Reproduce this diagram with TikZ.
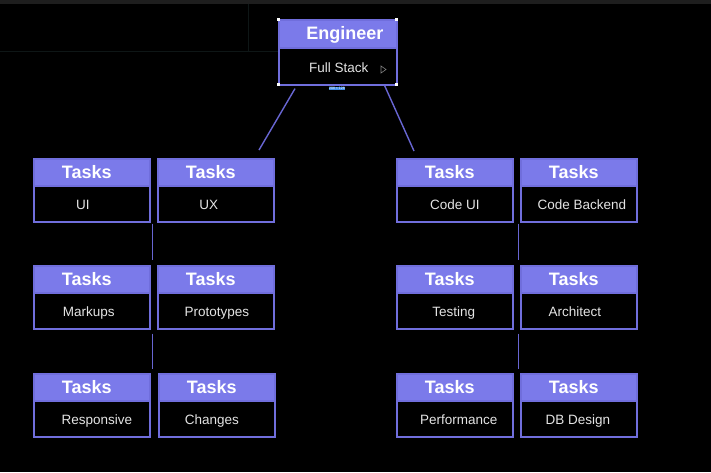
\documentclass[tikz,border=0pt]{standalone}
\usepackage{fontspec}
\setmainfont{Liberation Sans}
\definecolor{hdr}{RGB}{123,122,234}
\definecolor{edge}{RGB}{112,110,220}
\definecolor{wire}{RGB}{104,102,210}
\definecolor{txt}{RGB}{228,228,228}
\definecolor{strip}{RGB}{30,30,30}
\definecolor{faint}{RGB}{14,22,22}
\definecolor{tagblue}{RGB}{66,140,228}
\tikzset{
  bar/.style={fill=hdr, draw=edge, line width=1.6pt, minimum width=116pt,
    minimum height=27pt, inner sep=0pt, anchor=north west},
  head/.style={bar, label={[title,xshift=-5pt]center:Tasks}},
  body/.style={draw=edge, line width=1.6pt, minimum width=116pt,
    minimum height=36pt, inner sep=0pt, anchor=north west},
  title/.style={text=white, font=\bfseries\fontsize{18}{20}\selectfont,
    text height=13pt, text depth=1pt},
  item/.style={text=txt, font=\fontsize{13.5}{16}\selectfont,
    text height=10pt, text depth=3pt, yshift=-2.5pt},
  link/.style={draw=wire, line width=1.4pt},
  grip/.style={fill=white, minimum size=3pt, inner sep=0pt}
}
\begin{document}
\begin{tikzpicture}[x=1pt,y=-1pt]
  \useasboundingbox (0,0) rectangle (711,472);
  \fill[black] (0,0) rectangle (711,472);
  \fill[strip] (0,0) rectangle (711,4);
  \draw[faint, line width=0.6pt] (0,51) -- (278,51);
  \draw[faint, line width=0.6pt] (248,4) -- (248,51);

  % top box
  \node[bar, minimum width=118pt, minimum height=28pt,
    label={[title,xshift=7pt]center:Engineer}] (eng-head) at (278,19) {};
  \node[body, minimum width=118pt, minimum height=37pt,
    label={[item,xshift=1pt]center:Full Stack}] (eng) at (278,47) {};
  \node[grip] (grip-nw) at (278,19) {};
  \node[grip] (grip-ne) at (396,19) {};
  \node[grip] (grip-sw) at (278,84) {};
  \node[grip] (grip-se) at (396,84) {};
  \node[fill=tagblue, inner sep=0.6pt, text=white,
    font=\fontsize{3.5}{4}\selectfont] (size-tag) at (337,88.5) {208 × 128};
  \draw[gray, line width=0.6pt] (381,66) -- (386,69.5) -- (381,73) -- cycle;

  % left group
  \node[head] (ui-head) at (33,158) {};
  \node[body, label={[item,xshift=-9pt]center:UI}] (ui) at (33,185) {};
  \node[head] (ux-head) at (157,158) {};
  \node[body, label={[item,xshift=-7pt]center:UX}] (ux) at (157,185) {};
  \node[head] (markups-head) at (33,265) {};
  \node[body, label={[item,xshift=-3pt]center:Markups}] (markups) at (33,292) {};
  \node[head] (proto-head) at (157,265) {};
  \node[body, label={[item,xshift=1pt]center:Prototypes}] (proto) at (157,292) {};
  \node[head] (resp-head) at (33,373) {};
  \node[body, label={[item,xshift=5pt]center:Responsive}] (resp) at (33,400) {};
  \node[head] (changes-head) at (158,373) {};
  \node[body, label={[item,xshift=-5pt]center:Changes}] (changes) at (158,400) {};

  % right group
  \node[head] (codeui-head) at (396,158) {};
  \node[body, label={[item]center:Code UI}] (codeui) at (396,185) {};
  \node[head] (backend-head) at (520,158) {};
  \node[body, label={[item,xshift=3pt]center:Code Backend}] (backend) at (520,185) {};
  \node[head] (testing-head) at (396,265) {};
  \node[body, label={[item,xshift=-1pt]center:Testing}] (testing) at (396,292) {};
  \node[head] (arch-head) at (520,265) {};
  \node[body, label={[item,xshift=-4pt]center:Architect}] (arch) at (520,292) {};
  \node[head] (perf-head) at (396,373) {};
  \node[body, label={[item,xshift=4pt]center:Performance}] (perf) at (396,400) {};
  \node[head] (db-head) at (520,373) {};
  \node[body, label={[item,xshift=-1pt]center:DB Design}] (db) at (520,400) {};

  % links
  \coordinate (left-end) at (259,150);
  \coordinate (right-end) at (414,151);
  \draw[link] ([xshift=17pt,yshift=-3pt]eng.south west) -- (left-end);
  \draw[link] ([xshift=-13pt]eng.south east) -- (right-end);
  \draw[link] ([xshift=2pt,yshift=-1pt]ui.south east) -- ([xshift=2pt,yshift=5pt]markups-head.north east);
  \draw[link] ([xshift=2pt,yshift=-4pt]markups.south east) -- ([xshift=2pt,yshift=4pt]resp-head.north east);
  \draw[link] ([xshift=5pt,yshift=-1pt]codeui.south east) -- ([xshift=5pt,yshift=5pt]testing-head.north east);
  \draw[link] ([xshift=5pt,yshift=-4pt]testing.south east) -- ([xshift=5pt,yshift=4pt]perf-head.north east);
\end{tikzpicture}
\end{document}
